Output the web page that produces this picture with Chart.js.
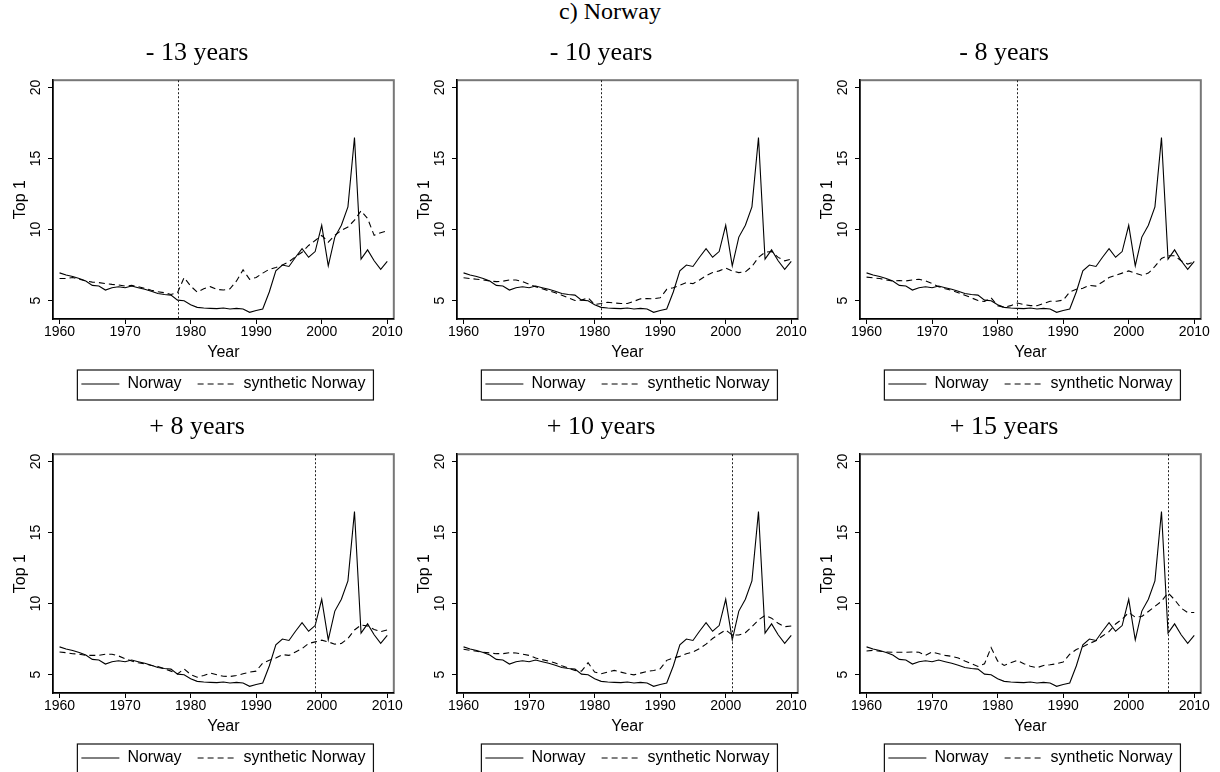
<!DOCTYPE html>
<html>
<head>
<meta charset="utf-8">
<script src="https://cdn.jsdelivr.net/npm/chart.js@4.4.1/dist/chart.umd.min.js"></script>
<style>
  html, body { margin: 0; padding: 0; background: #fff; }
  body { width: 1220px; height: 772px; overflow: hidden; position: relative; }
  #title { position: absolute; left: 0; top: -2px; width: 1220px; text-align: center;
           font: 24px "Liberation Serif", serif; color: #000; }
  canvas { position: absolute; }
</style>
</head>
<body>
<div id="title">c) Norway</div>
<canvas id="p0" width="403" height="374" style="left:0px;top:28px"></canvas>
<canvas id="p1" width="403" height="374" style="left:404px;top:28px"></canvas>
<canvas id="p2" width="403" height="374" style="left:807px;top:28px"></canvas>
<canvas id="p3" width="403" height="374" style="left:0px;top:402px"></canvas>
<canvas id="p4" width="403" height="374" style="left:404px;top:402px"></canvas>
<canvas id="p5" width="403" height="374" style="left:807px;top:402px"></canvas>
<script>
const years = [1960, 1961, 1962, 1963, 1964, 1965, 1966, 1967, 1968, 1969,
               1970, 1971, 1972, 1973, 1974, 1975, 1976, 1977, 1978, 1979,
               1980, 1981, 1982, 1983, 1984, 1985, 1986, 1987, 1988, 1989,
               1990, 1991, 1992, 1993, 1994, 1995, 1996, 1997, 1998, 1999,
               2000, 2001, 2002, 2003, 2004, 2005, 2006, 2007, 2008, 2009, 2010];

// actual Norway top 1% share
const norway = [6.95, 6.8, 6.69, 6.55, 6.38, 6.07, 6.02, 5.74, 5.9, 5.97,
                5.9, 6.02, 5.9, 5.79, 5.66, 5.5, 5.43, 5.38, 5.03, 4.98,
                4.7, 4.52, 4.47, 4.45, 4.43, 4.47, 4.4, 4.45, 4.4, 4.17,
                4.3, 4.4, 5.6, 7.1, 7.5, 7.4, 8.05, 8.65, 8.05, 8.45,
                10.3, 7.45, 9.47, 10.3, 11.6, 16.48, 7.92, 8.57, 7.8, 7.2, 7.76];

// synthetic Norway, one per placebo date
const synthM13 = [6.55, 6.55, 6.62, 6.5, 6.38, 6.3, 6.26, 6.2, 6.14, 6.1,
                  6.02, 6.07, 5.98, 5.86, 5.72, 5.62, 5.55, 5.43, 5.55, 6.62,
                  6.02, 5.6, 5.83, 5.98, 5.79, 5.74, 5.83, 6.38, 7.16, 6.5,
                  6.62, 6.93, 7.2, 7.33, 7.5, 7.73, 8.09, 8.4, 8.88, 9.23,
                  9.59, 9.11, 9.59, 9.94, 10.18, 10.66, 11.32, 10.78, 9.59, 9.78, 9.9];
const synthM10 = [6.6, 6.55, 6.5, 6.45, 6.38, 6.33, 6.36, 6.45, 6.45, 6.33,
                  6.14, 5.98, 5.83, 5.69, 5.55, 5.38, 5.19, 5.0, 5.03, 5.19,
                  4.72, 4.79, 4.88, 4.83, 4.79, 4.79, 4.95, 5.12, 5.14, 5.12,
                  5.19, 5.79, 5.9, 6.07, 6.26, 6.19, 6.45, 6.74, 6.97, 7.09,
                  7.28, 7.09, 6.97, 7.02, 7.4, 8.04, 8.4, 8.45, 8.04, 7.8, 7.92];
const synthM8 = [6.65, 6.6, 6.55, 6.45, 6.38, 6.4, 6.38, 6.45, 6.5, 6.38,
                 6.2, 5.98, 5.83, 5.72, 5.55, 5.38, 5.19, 5.0, 4.93, 5.19,
                 4.64, 4.52, 4.64, 4.83, 4.72, 4.64, 4.64, 4.79, 4.95, 4.95,
                 5.03, 5.6, 5.79, 5.86, 6.07, 6.02, 6.31, 6.62, 6.78, 6.93,
                 7.09, 6.93, 6.78, 6.93, 7.4, 7.97, 8.16, 8.16, 7.8, 7.57, 7.73];
const synthP8 = [6.59, 6.54, 6.47, 6.43, 6.35, 6.35, 6.35, 6.43, 6.43, 6.31,
                 6.12, 5.95, 5.83, 5.76, 5.64, 5.57, 5.4, 5.24, 5.05, 5.4,
                 5.0, 4.81, 4.93, 5.1, 4.98, 4.88, 4.86, 4.93, 5.05, 5.17,
                 5.24, 5.81, 6.0, 6.16, 6.4, 6.35, 6.59, 6.83, 7.19, 7.3,
                 7.42, 7.3, 7.14, 7.19, 7.54, 8.14, 8.49, 8.42, 8.18, 8.02, 8.14];
const synthP10 = [6.78, 6.71, 6.64, 6.57, 6.52, 6.47, 6.47, 6.54, 6.52, 6.43,
                  6.35, 6.16, 6.05, 5.95, 5.81, 5.62, 5.45, 5.29, 5.24, 5.83,
                  5.17, 5.05, 5.17, 5.29, 5.17, 5.05, 4.98, 5.1, 5.21, 5.29,
                  5.4, 6.0, 6.16, 6.28, 6.47, 6.59, 6.83, 7.14, 7.54, 7.85,
                  8.14, 7.78, 7.78, 7.95, 8.37, 8.85, 9.16, 8.97, 8.61, 8.37, 8.42];
const synthP15 = [6.66, 6.71, 6.64, 6.59, 6.57, 6.57, 6.57, 6.59, 6.57, 6.35,
                  6.59, 6.47, 6.35, 6.28, 6.16, 5.95, 5.76, 5.57, 5.76, 6.9,
                  5.95, 5.64, 5.83, 6.0, 5.76, 5.59, 5.48, 5.64, 5.69, 5.76,
                  5.88, 6.43, 6.76, 6.95, 7.19, 7.38, 7.71, 8.02, 8.56, 8.9,
                  9.37, 9.04, 9.09, 9.44, 9.8, 10.16, 10.75, 10.27, 9.68, 9.37, 9.37];

const panelTitles = ["- 13 years", "- 10 years", "- 8 years", "+ 8 years", "+ 10 years", "+ 15 years"];
const treatYears = [1978, 1981, 1983, 1999, 2001, 2006];
const synthSeries = [synthM13, synthM10, synthM8, synthP8, synthP10, synthP15];

const xTicks = [1960, 1970, 1980, 1990, 2000, 2010];
const yTicks = [5, 10, 15, 20];

const sans = "Liberation Sans";
const serif = "Liberation Serif";

// grey box round the plot region, axes are drawn over it in black
const framePlugin = {
  id: 'frame',
  beforeDraw(chart) {
    const { ctx, chartArea: a } = chart;
    ctx.save();
    ctx.strokeStyle = '#777';
    ctx.lineWidth = 2;
    ctx.strokeRect(a.left, a.top, a.right - a.left, a.bottom - a.top);
    ctx.restore();
  }
};

// dotted vertical line at the placebo date
const treatPlugin = {
  id: 'treat',
  afterDatasetsDraw(chart, args, opts) {
    const { ctx, chartArea: a, scales } = chart;
    const x = Math.round(scales.x.getPixelForValue(opts.year)) + 0.5;
    ctx.save();
    ctx.strokeStyle = '#222';
    ctx.lineWidth = 1;
    ctx.setLineDash([2, 2]);
    ctx.beginPath();
    ctx.moveTo(x, a.top);
    ctx.lineTo(x, a.bottom);
    ctx.stroke();
    ctx.restore();
  }
};

// border round the legend entries
const legendBoxPlugin = {
  id: 'legendBox',
  afterDraw(chart) {
    const hb = chart.legend.legendHitBoxes;
    if (!hb || !hb.length) return;
    const first = hb[0], last = hb[hb.length - 1];
    const ctx = chart.ctx;
    ctx.save();
    ctx.strokeStyle = '#111';
    ctx.lineWidth = 1.2;
    const x0 = first.left - 4, x1 = last.left + last.width + 8;
    const y0 = first.top - 6, y1 = first.top + first.height + 8;
    ctx.strokeRect(x0, y0, x1 - x0, y1 - y0);
    ctx.restore();
  }
};

// legend samples take the dash pattern of their dataset
function legendLabels(chart) {
  return Chart.defaults.plugins.legend.labels.generateLabels(chart).map(item => {
    item.lineDash = chart.data.datasets[item.datasetIndex].borderDash || [];
    item.lineWidth = 1;
    return item;
  });
}

function makeChart(id, title, synth, treat) {
  return new Chart(document.getElementById(id), {
    type: 'line',
    data: {
      datasets: [
        {
          label: 'Norway',
          data: years.map((yr, i) => ({ x: yr, y: norway[i] })),
          borderColor: '#000',
          borderWidth: 1.1,
          pointRadius: 0,
          tension: 0
        },
        {
          label: 'synthetic Norway',
          data: years.map((yr, i) => ({ x: yr, y: synth[i] })),
          borderColor: '#000',
          borderWidth: 1.1,
          borderDash: [6, 4],
          pointRadius: 0,
          tension: 0
        }
      ]
    },
    options: {
      responsive: false,
      animation: false,
      devicePixelRatio: 1,
      layout: { padding: { left: 0, right: 9, top: 0, bottom: 0 } },
      plugins: {
        title: {
          display: true,
          text: title,
          color: '#000',
          font: { family: serif, size: 26, weight: 'normal' },
          padding: { top: 10, bottom: 11 }
        },
        legend: {
          position: 'bottom',
          fullSize: false,
          labels: {
            usePointStyle: true,
            pointStyle: 'line',
            pointStyleWidth: 38,
            padding: 16,
            color: '#000',
            font: { family: sans, size: 16 },
            generateLabels: legendLabels
          }
        },
        tooltip: { enabled: false },
        treat: { year: treat }
      },
      scales: {
        x: {
          type: 'linear',
          min: 1959,
          max: 2011,
          afterBuildTicks: s => { s.ticks = xTicks.map(v => ({ value: v })); },
          afterFit: s => { s.height = 41; },
          ticks: {
            color: '#000',
            font: { family: sans, size: 14 },
            padding: 0,
            maxRotation: 0,
            autoSkip: false,
            callback: v => String(v)
          },
          grid: { drawOnChartArea: false, drawTicks: true, tickLength: 5, color: '#000' },
          border: { display: true, color: '#000', width: 1.5 },
          title: {
            display: true,
            text: 'Year',
            color: '#000',
            font: { family: sans, size: 16 },
            padding: { top: 0, bottom: -2 }
          }
        },
        y: {
          min: 3.7,
          max: 20.52,
          afterBuildTicks: s => { s.ticks = yTicks.map(v => ({ value: v })); },
          afterFit: s => { s.width = 53; },
          ticks: {
            color: '#000',
            font: { family: sans, size: 14 },
            minRotation: 90,
            maxRotation: 90,
            crossAlign: 'center',
            padding: 4,
            callback: v => String(v)
          },
          grid: { drawOnChartArea: false, drawTicks: true, tickLength: 5, color: '#000' },
          border: { display: true, color: '#000', width: 1.5 },
          title: {
            display: true,
            text: 'Top 1',
            color: '#000',
            font: { family: sans, size: 16 },
            padding: { top: 11, bottom: 0 }
          }
        }
      }
    },
    plugins: [framePlugin, treatPlugin, legendBoxPlugin]
  });
}

for (let i = 0; i < 6; i++) {
  makeChart('p' + i, panelTitles[i], synthSeries[i], treatYears[i]);
}
</script>
</body>
</html>
